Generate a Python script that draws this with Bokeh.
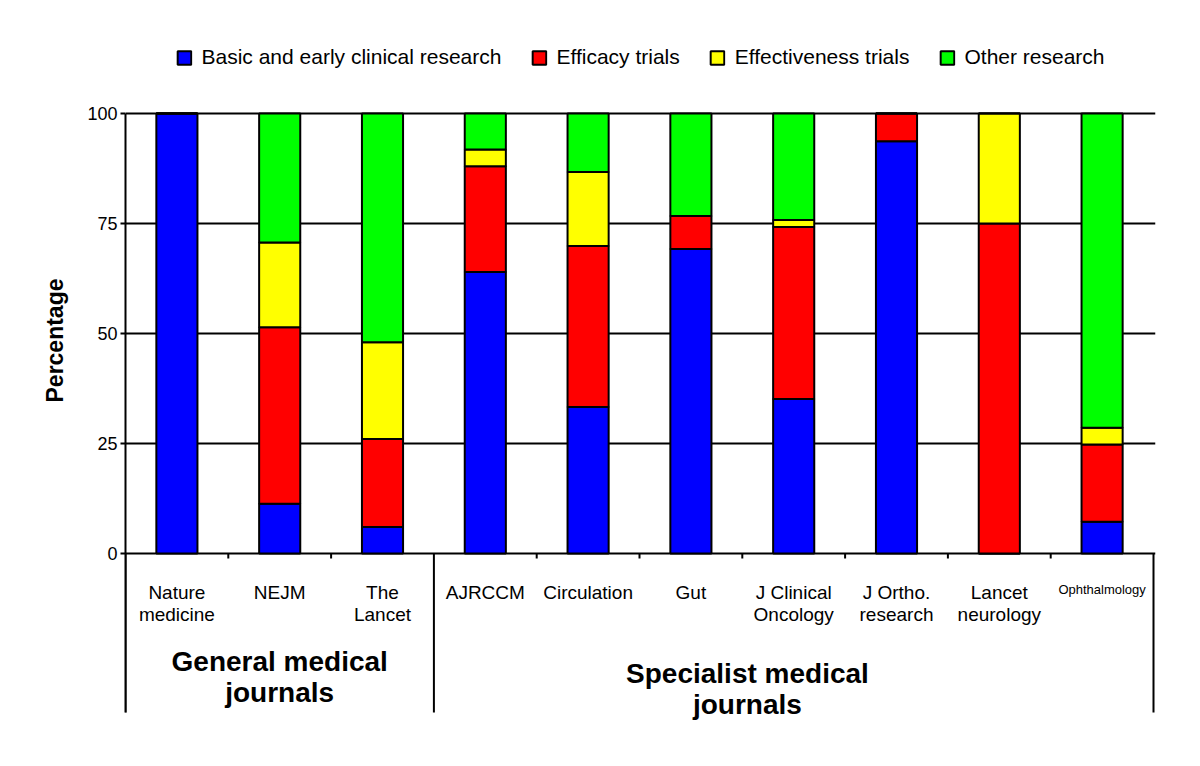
from bokeh.plotting import figure
from bokeh.models import (ColumnDataSource, Range1d, FixedTicker, Legend, LegendItem, Title)
from bokeh.core.properties import value
from bokeh.embed import file_html
from bokeh.resources import INLINE

# ---- data ----
journals = ["Nature medicine", "NEJM", "The Lancet", "AJRCCM", "Circulation", "Gut",
            "J Clinical Oncology", "J Ortho. research", "Lancet neurology", "Ophthalmology"]
tick_labels = ["Nature\nmedicine", "NEJM", "The\nLancet", "AJRCCM", "Circulation", "Gut",
               "J Clinical\nOncology", "J Ortho.\nresearch", "Lancet\nneurology", "Ophthalmology"]
basic = [100, 11.3, 6.0, 64.0, 33.3, 69.2, 35.1, 93.7, 0, 7.2]
efficacy = [0, 40.1, 20.0, 24.0, 36.6, 7.5, 39.1, 6.3, 75.0, 17.6]
effectiveness = [0, 19.3, 22.0, 3.8, 16.8, 0, 1.6, 0, 25.0, 3.8]
other = [0, 29.3, 52.0, 8.2, 13.3, 23.3, 24.2, 0, 0, 71.4]
series = ["Basic and early clinical research", "Efficacy trials", "Effectiveness trials", "Other research"]
colors = ["#0000FF", "#FF0000", "#FFFF00", "#00FF00"]
groups = ["General medical\njournals", "Specialist medical\njournals"]
group_sizes = [3, 7]
y_ticks = [0, 25, 50, 75, 100]

FONT = "Liberation Sans"
n = len(journals)

# ---- geometry (pixels) ----
FRAME_TOP = 20        # page y of frame top
ZERO_Y = 553          # page y of value 0
HUNDRED_Y = 113       # page y of value 100
FRAME_BOTTOM = 750
FRAME_W = 1030
CAT_W = 102.8          # pixels per category
PPU = (ZERO_Y - HUNDRED_Y) / 100.0   # pixels per unit
y_top = 100 + (HUNDRED_Y - FRAME_TOP) / PPU
y_bot = -(FRAME_BOTTOM - ZERO_Y) / PPU
def px(d):
    return d / PPU

xs = [i + 0.5 for i in range(n)]
keys = ["basic", "efficacy", "effectiveness", "other"]
source = ColumnDataSource(dict(x=xs, basic=basic, efficacy=efficacy,
                               effectiveness=effectiveness, other=other))

p = figure(frame_width=FRAME_W, frame_height=FRAME_BOTTOM - FRAME_TOP,
           output_backend="svg", toolbar_location=None,
           x_range=Range1d(0, FRAME_W / CAT_W), y_range=Range1d(y_bot, y_top),
           min_border_left=125, min_border_right=29, min_border_top=FRAME_TOP,
           min_border_bottom=0)
p.outline_line_color = None
p.background_fill_color = "white"

renderers = p.vbar_stack(keys, x="x", width=0.40, source=source, color=colors,
                         line_color="black", line_width=2)

# y axis (gridline at 0 doubles as the x axis line); axis line runs on down as separator
SEP_LEN = 159
p.yaxis.ticker = FixedTicker(ticks=y_ticks)
p.yaxis.bounds = (-px(SEP_LEN), 100)
p.yaxis.axis_line_color = "black"
p.yaxis.axis_line_width = 2
p.yaxis.major_tick_in = 0
p.yaxis.major_tick_out = 5
p.yaxis.major_tick_line_width = 2
p.yaxis.major_tick_line_color = "black"
p.yaxis.minor_tick_line_color = None
p.yaxis.major_label_text_font = FONT
p.yaxis.major_label_text_font_size = "18px"
p.yaxis.major_label_text_color = "black"
p.yaxis.major_label_standoff = 3
p.ygrid.grid_line_color = "black"
p.ygrid.grid_line_width = 2
p.xgrid.visible = False
p.xaxis.visible = False

ylab = Title(text="Percentage", align="left", offset=348, standoff=34,
             text_font=FONT, text_font_size="23px", text_font_style="bold",
             text_color="black")
p.add_layout(ylab, "left")

# boundary ticks and group separators below the baseline
boundaries = [0]
for s in group_sizes:
    boundaries.append(boundaries[-1] + s)
short = [i for i in range(n + 1) if i not in boundaries]
p.segment(x0=short, y0=[0] * len(short), x1=short, y1=[-px(5)] * len(short),
          line_color="black", line_width=2)
p.segment(x0=boundaries, y0=[0] * len(boundaries), x1=boundaries,
          y1=[-px(SEP_LEN)] * len(boundaries), line_color="black", line_width=2)

# category labels
sizes = ["19px"] * (n - 1) + ["13px"]
lab_src = ColumnDataSource(dict(x=xs, y=[-px(28)] * n, text=tick_labels, size=sizes))
p.text(x="x", y="y", text="text", source=lab_src, text_align="center",
       text_baseline="top", text_font=value(FONT), text_font_size="size",
       text_color="black", text_line_height=1.07)

# group labels
gx = [group_sizes[0] / 2, 6.05]
gy = [-px(92), -px(104)]
p.text(x=gx, y=gy, text=groups, text_align="center", text_baseline="top",
       text_font=value(FONT), text_font_size="28px", text_font_style="bold",
       text_color="black", text_line_height=1.02)

# legend in the top strip
items = [LegendItem(label=s, renderers=[r]) for s, r in zip(series, renderers)]
legend = Legend(items=items, orientation="horizontal", location="top_center",
                label_text_font=FONT, label_text_font_size="21px", label_text_color="black",
                glyph_width=17, glyph_height=17, label_standoff=9, spacing=29,
                padding=0, margin=25, border_line_color=None, background_fill_alpha=0)
p.add_layout(legend)

open("out.html", "w").write(file_html(p, INLINE))
